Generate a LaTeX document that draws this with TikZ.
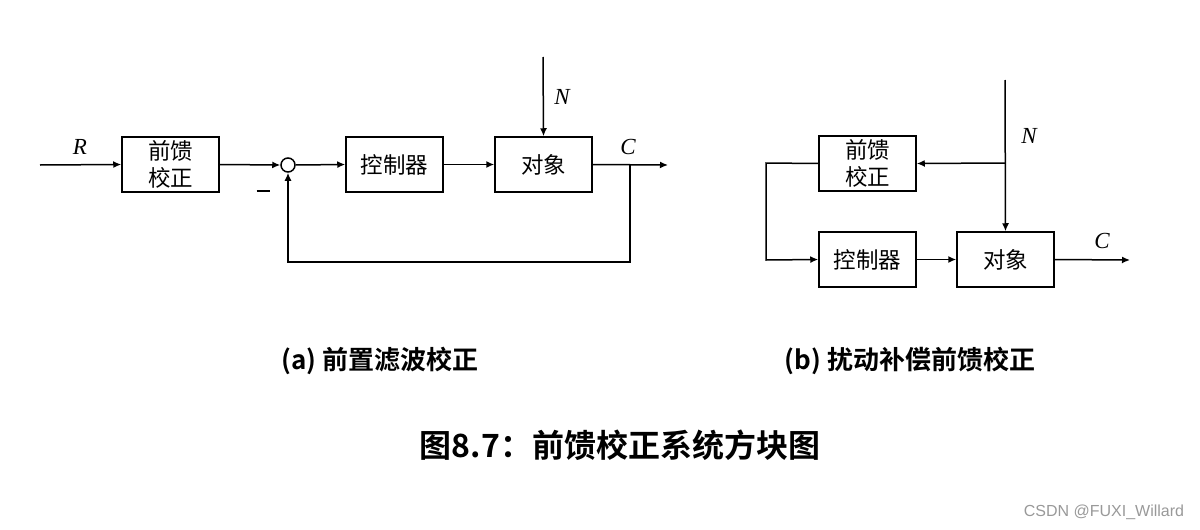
\documentclass[tikz,border=0pt]{standalone}
\usepackage{fontspec}
\usetikzlibrary{arrows.meta}
\newfontfamily\cjk{Noto Sans CJK SC}
\newfontfamily\cjkb{Noto Sans CJK SC Bold}
\newfontfamily\labfont{Liberation Serif}
\setsansfont{Liberation Sans}
\begin{document}
\begin{tikzpicture}[x=1pt,y=-1pt,
  blk/.style={draw,line width=1.5pt,minimum width=97pt,minimum height=55pt,inner sep=0pt,font=\cjk\fontsize{22.5}{27}\selectfont,align=center},
  arr/.style={line width=1.5pt,-{Latex[length=8pt,width=7pt]}},
  lab/.style={font=\labfont\itshape\fontsize{23}{25}\selectfont},
  captxt/.style={font=\cjkb\fontsize{26}{28}\selectfont}]
\useasboundingbox (0,0) rectangle (1200,530);
% (a)
\coordinate (rin) at (40,165);
\node[blk] (ffa) at (170.5,164.5) {前馈\\校正};
\node[draw,circle,line width=1.5pt,minimum size=14pt,inner sep=0pt] (sum) at (288,165) {};
\node[blk] (ctla) at (394.5,164.5) {控制器};
\node[blk] (plta) at (543.5,164.5) {对象};
\coordinate (na) at (543,57);
\coordinate (outa) at (668,165);
\coordinate (bra) at (630,165);
\coordinate (fb1) at (630,262);
\coordinate (fb2) at (288,262);
\draw[arr] (rin) -- (ffa.west);
\draw[arr] (ffa.east) -- (sum.west);
\draw[arr] (sum.east) -- (ctla.west);
\draw[arr] (ctla.east) -- (plta.west);
\draw[arr] (na) -- (plta.north);
\draw[arr] (plta.east) -- (outa);
\draw[arr] (bra) -- (fb1) -- (fb2) -- (sum.south);
\node[lab] (R) at (80,147) {R};
\node[lab] (Na) at (562,97) {N};
\node[lab] (Ca) at (628,147) {C};
\node[inner sep=0pt] (minus) at (263,191) {\rule{13pt}{1.4pt}};
% (b)
\node[blk] (ffb) at (867.5,163.5) {前馈\\校正};
\node[blk] (ctlb) at (867.5,259.5) {控制器};
\node[blk] (pltb) at (1005.5,259.5) {对象};
\coordinate (nb) at (1005,80);
\coordinate (brb) at (1005,163);
\coordinate (l1) at (766,163);
\coordinate (l2) at (766,260);
\coordinate (outb) at (1130,260);
\draw[arr] (nb) -- (pltb.north);
\draw[arr] (brb) -- (ffb.east);
\draw[arr] (ffb.west) -- (l1) -- (l2) -- (ctlb.west);
\draw[arr] (ctlb.east) -- (pltb.west);
\draw[arr] (pltb.east) -- (outb);
\node[lab] (Nb) at (1029,136) {N};
\node[lab] (Cb) at (1102,241) {C};
% captions
\node[captxt] (capa) at (380,361) {(a) 前置滤波校正};
\node[captxt] (capb) at (910,361) {(b) 扰动补偿前馈校正};
\node[font=\cjkb\fontsize{32}{34}\selectfont] (title) at (620,445) {图8.7：前馈校正系统方块图};
\node[font=\sffamily\fontsize{16}{18}\selectfont,text=black!40] (wm) at (1104,512) {CSDN @FUXI\_Willard};
\end{tikzpicture}
\end{document}
